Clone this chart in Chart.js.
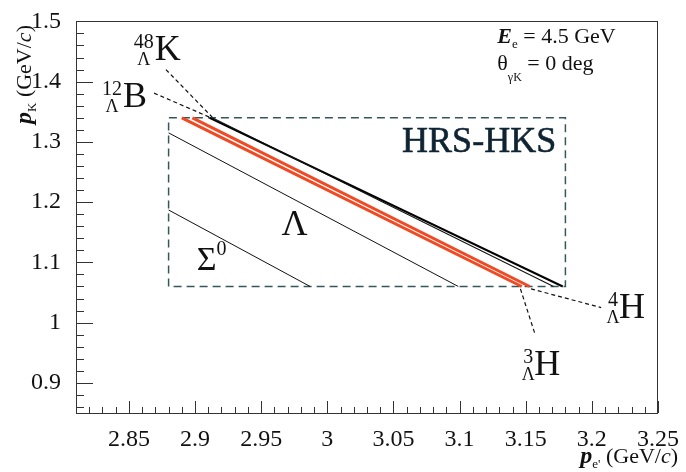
<!DOCTYPE html>
<html lang="en">
<head>
<meta charset="UTF-8">
<title>p_K vs p_e' - HRS-HKS</title>
<script src="https://cdn.jsdelivr.net/npm/chart.js"></script>
<style>
  html, body { margin: 0; padding: 0; background: #fff; }
  #wrap { width: 686px; height: 472px; }
</style>
</head>
<body>
<div id="wrap"><canvas id="grafico"></canvas></div>
<script>
// labelled ticks
const xTicks = [2.85, 2.9, 2.95, 3, 3.05, 3.1, 3.15, 3.2, 3.25];
const yTicks = [0.9, 1, 1.1, 1.2, 1.3, 1.4, 1.5];

// kinematic lines inside the acceptance (p_e' -> p_K)
const sigmaX = [2.88, 2.987];
const sigmaY = [1.187, 1.06];
const lambdaX = [2.88, 3.099];
const lambdaY = [1.315, 1.06];
const h3X = [2.890, 3.147];
const h3Y = [1.34, 1.06];
const h4X = [2.898, 3.153];
const h4Y = [1.34, 1.06];
const b12X = [2.911, 3.178];
const b12Y = [1.34, 1.06];
const k48X = [2.913, 3.171];
const k48Y = [1.34, 1.06];

// HRS-HKS acceptance box
const boxX = [2.88, 2.88, 3.18, 3.18, 2.88];
const boxY = [1.06, 1.34, 1.34, 1.06, 1.06];

// leader lines for the labels
const lead48X = [2.878, 2.913];
const lead48Y = [1.420, 1.341];
const lead12X = [2.869, 2.911];
const lead12Y = [1.381, 1.341];
const lead3X = [3.146, 3.157];
const lead3Y = [1.056, 0.981];
const lead4X = [3.154, 3.207];
const lead4Y = [1.056, 1.025];

const SERIF = 'Liberation Serif';
Chart.defaults.font.family = SERIF;
Chart.defaults.color = '#111';

function pts(xs, ys) {
  return xs.map((x, i) => ({ x: x, y: ys[i] }));
}

function line(xs, ys, color, width, dash) {
  return {
    data: pts(xs, ys),
    showLine: true,
    borderColor: color,
    borderWidth: width,
    borderDash: dash || [],
    pointRadius: 0,
    fill: false
  };
}

// text made of several runs (sub/superscripts)
function drawRuns(ctx, x, y, parts, align) {
  let total = 0;
  parts.forEach(p => { ctx.font = p.f; total += ctx.measureText(p.t).width; });
  let cx = align === 'right' ? x - total : x;
  ctx.textAlign = 'left';
  parts.forEach(p => {
    ctx.font = p.f;
    ctx.fillText(p.t, cx, y + (p.dy || 0));
    cx += ctx.measureText(p.t).width;
  });
}

// hypernucleus label: superscript A, subscript Lambda, big element letter
function hyper(ctx, px, py, sup, big) {
  ctx.textAlign = 'right';
  ctx.font = '20px ' + SERIF;
  const w = ctx.measureText(sup).width;
  ctx.fillText(sup, px - 1, py - 12);
  ctx.textAlign = 'center';
  ctx.font = '18px ' + SERIF;
  ctx.fillText('\u039B', px - 1 - w / 2, py + 5);
  ctx.textAlign = 'left';
  ctx.font = '36px ' + SERIF;
  ctx.fillText(big, px, py);
}

const decorations = {
  id: 'decorations',
  afterDraw(chart) {
    const ctx = chart.ctx;
    const ca = chart.chartArea;
    const xs = chart.scales.x;
    const ys = chart.scales.y;
    const X = v => xs.getPixelForValue(v);
    const Y = v => ys.getPixelForValue(v);

    ctx.save();
    // frame
    ctx.strokeStyle = '#333';
    ctx.lineWidth = 1;
    ctx.strokeRect(Math.round(ca.left) + 0.5, Math.round(ca.top) + 0.5,
                   Math.round(ca.right - ca.left) - 1, Math.round(ca.bottom - ca.top));

    // inner ticks on y axis (every 0.02)
    ctx.beginPath();
    for (let i = 43; i <= 75; i++) {
      const v = i * 0.02;
      const major = i % 5 === 0;
      const py = Math.round(Y(v)) + 0.5;
      ctx.moveTo(ca.left, py);
      ctx.lineTo(ca.left + (major ? 17 : 8), py);
    }
    // inner ticks on x axis (every 0.01)
    for (let i = 282; i <= 325; i++) {
      const v = i * 0.01;
      const major = i % 5 === 0;
      const px = Math.round(X(v)) + 0.5;
      ctx.moveTo(px, ca.bottom);
      ctx.lineTo(px, ca.bottom - (major ? 12 : 6));
    }
    ctx.stroke();

    ctx.fillStyle = '#111';
    ctx.textBaseline = 'alphabetic';

    // hypernuclei labels
    hyper(ctx, X(2.8696), Y(1.4362), '48', 'K');
    hyper(ctx, X(2.8455), Y(1.3576), '12', 'B');
    hyper(ctx, X(3.2206), Y(1.0074), '4', 'H');
    hyper(ctx, X(3.1564), Y(0.9124), '3', 'H');

    // Lambda and Sigma0
    ctx.textAlign = 'center';
    ctx.font = '36px ' + SERIF;
    ctx.fillText('\u039B', X(2.9753), Y(1.1449));
    drawRuns(ctx, X(2.9013), Y(1.0876), [
      { t: '\u03A3', f: '34px ' + SERIF },
      { t: '0', f: '20px ' + SERIF, dy: -15 }
    ]);

    // HRS-HKS
    ctx.textAlign = 'right';
    ctx.font = '36px ' + SERIF;
    ctx.fillStyle = '#0f2433';
    ctx.fillText('HRS-HKS', X(3.173), Y(1.284));
    ctx.lineWidth = 0.6;
    ctx.strokeStyle = '#0f2433';
    ctx.strokeText('HRS-HKS', X(3.173), Y(1.284));

    // conditions
    ctx.fillStyle = '#111';
    drawRuns(ctx, X(3.1285), Y(1.464), [
      { t: 'E', f: 'bold italic 22px ' + SERIF },
      { t: 'e', f: '13px ' + SERIF, dy: 5 },
      { t: ' = 4.5 GeV', f: '22px ' + SERIF }
    ]);
    drawRuns(ctx, X(3.1285), Y(1.42), [
      { t: '\u03B8', f: '22px ' + SERIF },
      { t: '\u03B3K', f: '12px ' + SERIF, dy: 11 },
      { t: ' = 0 deg', f: '22px ' + SERIF }
    ]);

    // axis titles
    drawRuns(ctx, 678, 463, [
      { t: 'p', f: 'bold italic 24px ' + SERIF },
      { t: "e'", f: '13px ' + SERIF, dy: 5 },
      { t: ' (GeV/', f: '22px ' + SERIF },
      { t: 'c', f: 'italic 22px ' + SERIF },
      { t: ')', f: '22px ' + SERIF }
    ], 'right');

    ctx.translate(31, 124);
    ctx.rotate(-Math.PI / 2);
    drawRuns(ctx, 0, 0, [
      { t: 'p', f: 'bold italic 24px ' + SERIF },
      { t: 'K', f: '13px ' + SERIF, dy: 5 },
      { t: ' (GeV/', f: '22px ' + SERIF },
      { t: 'c', f: 'italic 22px ' + SERIF },
      { t: ')', f: '22px ' + SERIF }
    ]);
    ctx.restore();
  }
};

const RED = '#ef4a23';

new Chart(document.getElementById('grafico').getContext('2d'), {
  type: 'scatter',
  data: {
    datasets: [
      line(k48X, k48Y, '#111', 1.1),
      line(b12X, b12Y, '#000', 2),
      line(h4X, h4Y, RED, 3),
      line(h3X, h3Y, RED, 3),
      line(lambdaX, lambdaY, '#111', 1),
      line(sigmaX, sigmaY, '#111', 1),
      line(lead48X, lead48Y, '#111', 1.2, [4, 3]),
      line(lead12X, lead12Y, '#111', 1.2, [4, 3]),
      line(lead3X, lead3Y, '#111', 1.2, [4, 3]),
      line(lead4X, lead4Y, '#111', 1.2, [4, 3]),
      line(boxX, boxY, '#36575a', 1.5, [8, 5])
    ]
  },
  options: {
    responsive: true,
    maintainAspectRatio: false,
    animation: false,
    layout: { padding: { top: 16, right: 28, left: 0, bottom: 0 } },
    plugins: {
      legend: { display: false },
      tooltip: { enabled: false }
    },
    scales: {
      x: {
        type: 'linear',
        min: 2.81,
        max: 3.25,
        afterBuildTicks: s => { s.ticks = xTicks.map(v => ({ value: v })); },
        afterFit: s => { s.height = 59; },
        grid: { display: false },
        border: { display: false },
        ticks: {
          color: '#111',
          padding: 4,
          maxRotation: 0,
          autoSkip: false,
          font: { family: SERIF, size: 24 },
          callback: v => String(+v.toFixed(2))
        }
      },
      y: {
        type: 'linear',
        min: 0.85,
        max: 1.5,
        afterBuildTicks: s => { s.ticks = yTicks.map(v => ({ value: v })); },
        afterFit: s => { s.width = 76; },
        grid: { display: false },
        border: { display: false },
        ticks: {
          color: '#111',
          padding: 7,
          autoSkip: false,
          font: { family: SERIF, size: 24 },
          callback: v => String(+v.toFixed(2))
        }
      }
    }
  },
  plugins: [decorations]
});
</script>
</body>
</html>
